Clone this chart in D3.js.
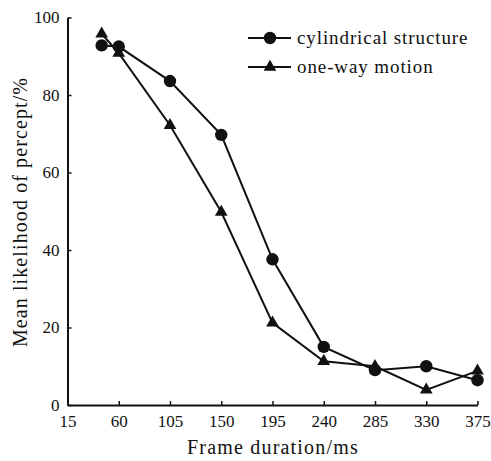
<!DOCTYPE html>
<html><head><meta charset="utf-8">
<script src="https://cdn.jsdelivr.net/npm/d3@7"></script>
<style>body{margin:0;background:#fff}svg{display:block}text{font-family:"Liberation Serif","Times New Roman",serif;fill:#111}</style>
</head><body>
<svg id="c" width="491" height="461"></svg>
<script>
const xValues = [45, 60, 105, 150, 195, 240, 285, 330, 375];
const cylindrical = [92.8, 92.5, 83.6, 69.7, 37.6, 15.0, 9.0, 10.0, 6.4];
const oneWay = [95.8, 90.8, 72.2, 49.8, 21.2, 11.3, 10.0, 3.9, 8.8];
const xTicks = [15, 60, 105, 150, 195, 240, 285, 330, 375];
const yTicks = [0, 20, 40, 60, 80, 100];
const seriesNames = ["cylindrical structure", "one-way motion"];

const svg = d3.select("#c");
const x = d3.scaleLinear().domain([15, 375]).range([67.5, 477.5]);
const y = d3.scaleLinear().domain([0, 100]).range([405, 17.5]);

const xAxis = svg.append("g").attr("transform", "translate(0,405)")
  .call(d3.axisBottom(x).tickValues(xTicks).tickSizeInner(-4).tickSizeOuter(0).tickPadding(10));
const yAxis = svg.append("g").attr("transform", "translate(67.5,0)")
  .call(d3.axisLeft(y).tickValues(yTicks).tickSizeInner(-4).tickSizeOuter(0).tickPadding(8));
[xAxis, yAxis].forEach(a => {
  a.selectAll("path.domain").attr("stroke", "#111").attr("stroke-width", 2);
  a.selectAll(".tick line").attr("stroke", "#111").attr("stroke-width", 1.5);
  a.selectAll("text").attr("font-size", 17).attr("font-family", "Liberation Serif").attr("fill", "#111");
});
xAxis.selectAll("text").attr("dy", "0.71em");

svg.append("text").attr("x", 273).attr("y", 454).attr("text-anchor", "middle")
  .attr("font-size", 20).attr("letter-spacing", 1.2).text("Frame duration/ms");
svg.append("text").attr("transform", "translate(27,212) rotate(-90)").attr("text-anchor", "middle")
  .attr("font-size", 20).attr("letter-spacing", 1.1).text("Mean likelihood of percept/%");

const line = d3.line().x((d, i) => x(xValues[i])).y(d => y(d));
const tri = d3.symbol().type(d3.symbolTriangle).size(70);

function drawSeries(vals, marker) {
  svg.append("path").datum(vals).attr("d", line).attr("fill", "none").attr("stroke", "#111").attr("stroke-width", 2);
  if (marker === "circle") {
    svg.selectAll(null).data(vals).enter().append("circle")
      .attr("cx", (d, i) => x(xValues[i])).attr("cy", d => y(d)).attr("r", 6.2).attr("fill", "#111");
  } else {
    svg.selectAll(null).data(vals).enter().append("path").attr("d", tri)
      .attr("transform", (d, i) => `translate(${x(xValues[i])},${y(d)})`).attr("fill", "#111");
  }
}
drawSeries(oneWay, "tri");
drawSeries(cylindrical, "circle");

// legend
const lg = svg.append("g");
[0, 1].forEach(i => {
  const yy = 38 + i * 29;
  lg.append("line").attr("x1", 248).attr("x2", 291).attr("y1", yy).attr("y2", yy).attr("stroke", "#111").attr("stroke-width", 2);
  if (i === 0) lg.append("circle").attr("cx", 270).attr("cy", yy).attr("r", 6.2).attr("fill", "#111");
  else lg.append("path").attr("d", tri).attr("transform", `translate(270,${yy})`).attr("fill", "#111");
  lg.append("text").attr("x", 297).attr("y", yy + 6).attr("font-size", 19).attr("letter-spacing", 0.9).text(seriesNames[i]);
});
</script>
</body></html>
